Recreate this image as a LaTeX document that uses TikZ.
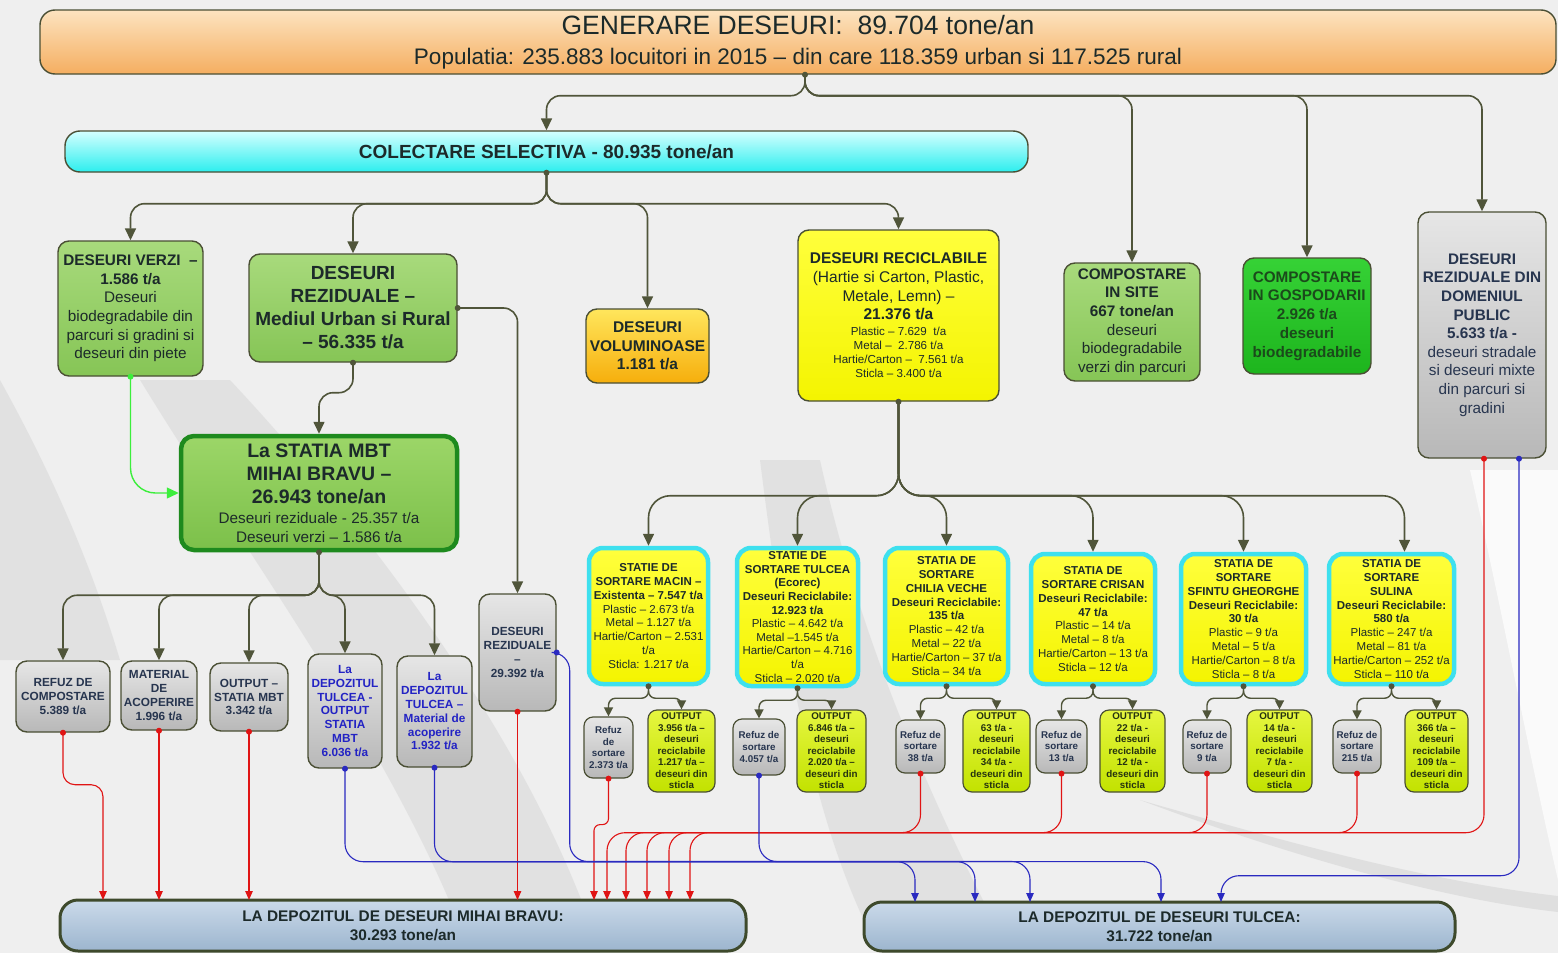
\documentclass[tikz,border=0pt]{standalone}
\usepackage{fontspec}
\setmainfont{Liberation Sans}
\usetikzlibrary{arrows.meta,calc}
\newcommand{\fsz}[2]{\fontsize{#1}{#2}\selectfont}

\definecolor{conn}{HTML}{50553A}
\definecolor{edge}{HTML}{4A4F34}
\definecolor{ink}{HTML}{1C2A2A}
\definecolor{greyink}{HTML}{27354F}
\definecolor{blueink}{HTML}{2323C4}
\definecolor{redl}{HTML}{E01414}
\definecolor{bluel}{HTML}{2A2AC0}
\definecolor{greenl}{HTML}{3CEE3C}
\definecolor{genT}{HTML}{FCE3C0}
\definecolor{genB}{HTML}{F5AE60}
\definecolor{colT}{HTML}{D4FFFF}
\definecolor{colB}{HTML}{2CEEEE}
\definecolor{grnT}{HTML}{A8DA7C}
\definecolor{grnB}{HTML}{86C556}
\definecolor{mbtT}{HTML}{9CD668}
\definecolor{mbtB}{HTML}{7CC04A}
\definecolor{mbtE}{HTML}{1E8A1E}
\definecolor{gspT}{HTML}{36D236}
\definecolor{gspB}{HTML}{1DB51D}
\definecolor{gspInk}{HTML}{1B4A1B}
\definecolor{volT}{HTML}{FFE65C}
\definecolor{volB}{HTML}{F6AE0C}
\definecolor{recT}{HTML}{FFFF3C}
\definecolor{recB}{HTML}{F4F400}
\definecolor{stE}{HTML}{3EE0EE}
\definecolor{outT}{HTML}{E6F640}
\definecolor{outB}{HTML}{C2E200}
\definecolor{outInk}{HTML}{253210}
\definecolor{gryT}{HTML}{E6E6E6}
\definecolor{gryB}{HTML}{B8B8B8}
\definecolor{depT}{HTML}{CBDAEA}
\definecolor{depB}{HTML}{9CB5CE}
\definecolor{depE}{HTML}{3E4A2C}
\definecolor{bgbase}{HTML}{EFEFEF}
\definecolor{bgband}{HTML}{D9D9D9}

\newcommand{\pin}[2]{\fill[#1] (#2) circle (3pt);}

\begin{document}
\begin{tikzpicture}[x=1pt,y=-1pt,
  base/.style={draw=edge, line width=1.4pt, rounded corners=11pt, align=center,
    text=ink, inner sep=1pt},
  genbox/.style={base, top color=genT, bottom color=genB, rounded corners=15pt},
  colbox/.style={base, top color=colT, bottom color=colB, rounded corners=15pt,
    font=\fsz{19}{22}\bfseries},
  greenbox/.style={base, top color=grnT, bottom color=grnB, font=\fsz{15.3}{18.6}},
  gospbox/.style={base, top color=gspT, bottom color=gspB, text=gspInk,
    font=\fsz{15.3}{18.8}\bfseries},
  volbox/.style={base, top color=volT, bottom color=volB, font=\fsz{15.5}{18.5}\bfseries},
  recbox/.style={base, top color=recT, bottom color=recB, font=\fsz{15.5}{18.7}},
  mbtbox/.style={base, draw=mbtE, line width=4.5pt, top color=mbtT, bottom color=mbtB,
    rounded corners=13pt},
  greybox/.style={base, top color=gryT, bottom color=gryB, text=greyink},
  lowbox/.style={greybox, font=\fsz{11.8}{13.8}\bfseries},
  stationbox/.style={base, draw=stE, line width=4.5pt, top color=recT, bottom color=recB,
    rounded corners=14pt, font=\fsz{11.5}{13.9}},
  refbox/.style={greybox, line width=1.2pt, rounded corners=9pt,
    font=\fsz{9.8}{11.7}\bfseries, text=greyink},
  outbox/.style={base, line width=1.2pt, rounded corners=9pt, top color=outT,
    bottom color=outB, text=outInk, font=\fsz{9.8}{11.5}\bfseries},
  depbox/.style={base, draw=depE, line width=3pt, top color=depT, bottom color=depB,
    rounded corners=18pt, text=ink, font=\fsz{15.4}{19}\bfseries},
  flow/.style={draw=conn, line width=1.6pt, rounded corners=14pt,
    -{Triangle[length=12pt,width=11pt]}},
  sflow/.style={draw=conn, line width=1.4pt, rounded corners=7pt,
    -{Triangle[length=9pt,width=9pt]}},
  greenflow/.style={draw=greenl, line width=1.4pt, rounded corners=25pt,
    -{Triangle[length=12pt,width=11pt]}},
  redflow/.style={draw=redl, line width=1.1pt, rounded corners=18pt,
    -{Triangle[length=9pt,width=7.5pt]}},
  blueflow/.style={draw=bluel, line width=1.1pt, rounded corners=18pt,
    -{Triangle[length=9pt,width=7.5pt]}},
]
\clip (0,0) rectangle (1558,953);

% ---------- background with soft swooshes ----------
\fill[bgbase] (0,0) rectangle (1558,953);
\fill[bgband, opacity=.6] (0,380) .. controls (50,470) and (90,560) .. (120,660) -- (0,660) -- cycle;
\fill[bgband, opacity=.6] (140,380) .. controls (250,560) and (400,760) .. (470,953)
  -- (600,953) .. controls (540,760) and (380,540) .. (230,380) -- cycle;
\fill[bgband, opacity=.6] (820,460) .. controls (860,640) and (930,800) .. (1010,953)
  -- (880,953) .. controls (820,840) and (790,700) .. (760,460) -- cycle;
\fill[bgband, opacity=.7] (1140,800) .. controls (1300,860) and (1450,900) .. (1558,912)
  -- (1558,896) .. controls (1420,880) and (1280,840) .. (1140,800) -- cycle;
\fill[white, opacity=.7] (1470,470) .. controls (1500,600) and (1530,760) .. (1558,880)
  -- (1558,470) -- cycle;

% ---------- top level ----------
\node[genbox, minimum width=1516pt, minimum height=64pt, font=\fsz{22.5}{29.5}] (gen) at (798,42)
  {\fsz{26.5}{29.5}GENERARE DESEURI:\ \ 89.704 tone/an\\
   Populatia: 235.883 locuitori in 2015 -- din care 118.359 urban si 117.525 rural};

\node[colbox, minimum width=963pt, minimum height=41pt] (col) at (546.5,151.5)
  {COLECTARE SELECTIVA - 80.935 tone/an};

% ---------- collection streams ----------
\node[greenbox, minimum width=145pt, minimum height=135pt] (verzi) at (130.5,308.5)
  {\textbf{DESEURI VERZI\ \ --}\\ \textbf{1.586 t/a}\\ Deseuri\\ biodegradabile din\\
   parcuri si gradini si\\ deseuri din piete};

\node[greenbox, minimum width=208pt, minimum height=108pt, font=\fsz{19}{23}\bfseries] (rez) at (353,308)
  {DESEURI\\ REZIDUALE --\\ Mediul Urban si Rural\\ -- 56.335 t/a};

\node[volbox, minimum width=123pt, minimum height=74pt] (vol) at (647.5,346)
  {DESEURI\\ VOLUMINOASE\\ 1.181 t/a};

\node[recbox, minimum width=201pt, minimum height=171pt] (recic) at (898.5,315.5)
  {\textbf{DESEURI RECICLABILE}\\ (Hartie si Carton, Plastic,\\ Metale, Lemn) --\\
   \textbf{21.376 t/a}\\[-2.7pt]
   \fsz{11.6}{14}Plastic -- 7.629\ \ t/a\\[-4.7pt]
   \fsz{11.6}{14}Metal --\ \ 2.786 t/a\\[-4.7pt]
   \fsz{11.6}{14}Hartie/Carton --\ \ 7.561 t/a\\[-4.7pt]
   \fsz{11.6}{14}Sticla -- 3.400 t/a};

\node[greenbox, minimum width=136pt, minimum height=118pt] (csite) at (1132,322)
  {\textbf{COMPOSTARE}\\ \textbf{IN SITE}\\ \textbf{667 tone/an}\\ deseuri\\ biodegradabile\\ verzi din parcuri};

\node[gospbox, minimum width=128pt, minimum height=116pt] (cgosp) at (1307,316)
  {COMPOSTARE\\ IN GOSPODARII\\ 2.926 t/a\\ deseuri\\ biodegradabile};

\node[greybox, minimum width=128pt, minimum height=246pt, font=\fsz{15.3}{18.6}] (pub) at (1482,335)
  {\textbf{DESEURI}\\ \textbf{REZIDUALE DIN}\\ \textbf{DOMENIUL}\\ \textbf{PUBLIC}\\ \textbf{5.633 t/a -}\\
   deseuri stradale\\ si deseuri mixte\\ din parcuri si\\ gradini};

% ---------- MBT plant and its outputs ----------
\node[mbtbox, minimum width=276pt, minimum height=114pt, font=\fsz{15.3}{23}] (mbt) at (319,493)
  {\fsz{19.5}{23}\bfseries La STATIA MBT\\ \fsz{19.5}{23}\bfseries MIHAI BRAVU --\\
   \fsz{19.5}{23}\bfseries 26.943 tone/an\\[-3pt]
   Deseuri reziduale - 25.357 t/a\\[-4pt] Deseuri verzi -- 1.586 t/a};

\node[lowbox, minimum width=94pt, minimum height=71pt] (refc) at (63,696.5)
  {REFUZ DE\\ COMPOSTARE\\ 5.389 t/a};
\node[lowbox, minimum width=76pt, minimum height=69pt] (mat) at (159,695.5)
  {MATERIAL\\ DE\\ ACOPERIRE\\ 1.996 t/a};
\node[lowbox, minimum width=78pt, minimum height=68pt] (outm) at (249,697)
  {OUTPUT --\\ STATIA MBT\\ 3.342 t/a};
\node[lowbox, text=blueink, minimum width=74pt, minimum height=114pt] (dto) at (345,711)
  {La\\ DEPOZITUL\\ TULCEA -\\ OUTPUT\\ STATIA\\ MBT\\ 6.036 t/a};
\node[lowbox, text=blueink, minimum width=75pt, minimum height=111pt] (dtm) at (434.5,711.5)
  {La\\ DEPOZITUL\\ TULCEA --\\ Material de\\ acoperire\\ 1.932 t/a};
\node[lowbox, minimum width=77pt, minimum height=117pt] (drz) at (517.5,652.5)
  {DESEURI\\ REZIDUALE\\ --\\ 29.392 t/a};

% ---------- sorting stations ----------
\node[stationbox, minimum width=119pt, minimum height=136pt] (s1) at (648.5,616)
  {\textbf{STATIE DE}\\ \textbf{SORTARE MACIN --}\\ \textbf{Existenta -- 7.547 t/a}\\
   Plastic -- 2.673 t/a\\ Metal -- 1.127 t/a\\ Hartie/Carton -- 2.531\\ t/a\\ Sticla: 1.217 t/a};
\node[stationbox, minimum width=121pt, minimum height=138pt, font=\fsz{11.5}{13.6}] (s2) at (797.5,617)
  {\textbf{STATIE DE}\\ \textbf{SORTARE TULCEA}\\ \textbf{(Ecorec)}\\ \textbf{Deseuri Reciclabile:}\\
   \textbf{12.923 t/a}\\ Plastic -- 4.642 t/a\\ Metal --1.545 t/a\\ Hartie/Carton -- 4.716\\ t/a\\
   Sticla -- 2.020 t/a};
\node[stationbox, minimum width=123pt, minimum height=136pt] (s3) at (946.5,616)
  {\textbf{STATIA DE}\\ \textbf{SORTARE}\\ \textbf{CHILIA VECHE}\\ \textbf{Deseuri Reciclabile:}\\
   \textbf{135 t/a}\\ Plastic -- 42 t/a\\ Metal -- 22 t/a\\ Hartie/Carton -- 37 t/a\\ Sticla -- 34 t/a};
\node[stationbox, minimum width=124pt, minimum height=130pt] (s4) at (1093,619)
  {\textbf{STATIA DE}\\ \textbf{SORTARE CRISAN}\\ \textbf{Deseuri Reciclabile:}\\ \textbf{47 t/a}\\
   Plastic -- 14 t/a\\ Metal -- 8 t/a\\ Hartie/Carton -- 13 t/a\\ Sticla -- 12 t/a};
\node[stationbox, minimum width=125pt, minimum height=130pt] (s5) at (1243.5,619)
  {\textbf{STATIA DE}\\ \textbf{SORTARE}\\ \textbf{SFINTU GHEORGHE}\\ \textbf{Deseuri Reciclabile:}\\
   \textbf{30 t/a}\\ Plastic -- 9 t/a\\ Metal -- 5 t/a\\ Hartie/Carton -- 8 t/a\\ Sticla -- 8 t/a};
\node[stationbox, minimum width=125pt, minimum height=130pt] (s6) at (1391.5,619)
  {\textbf{STATIA DE}\\ \textbf{SORTARE}\\ \textbf{SULINA}\\ \textbf{Deseuri Reciclabile:}\\
   \textbf{580 t/a}\\ Plastic -- 247 t/a\\ Metal -- 81 t/a\\ Hartie/Carton -- 252 t/a\\ Sticla -- 110 t/a};

% sorting rejects and outputs
\node[refbox, minimum width=49pt, minimum height=61pt] (r1) at (608.5,747.5)
  {Refuz\\ de\\ sortare\\ 2.373 t/a};
\node[outbox, minimum width=67pt, minimum height=82pt] (o1) at (681.5,751)
  {OUTPUT\\ 3.956 t/a --\\ deseuri\\ reciclabile\\ 1.217 t/a --\\ deseuri din\\ sticla};
\node[refbox, minimum width=52pt, minimum height=56pt] (r2) at (759,747)
  {Refuz de\\ sortare\\ 4.057 t/a};
\node[outbox, minimum width=69pt, minimum height=82pt] (o2) at (831.5,751)
  {OUTPUT\\ 6.846 t/a --\\ deseuri\\ reciclabile\\ 2.020 t/a --\\ deseuri din\\ sticla};
\node[refbox, minimum width=49pt, minimum height=53pt] (r3) at (920.5,746.5)
  {Refuz de\\ sortare\\ 38 t/a};
\node[outbox, minimum width=67pt, minimum height=82pt] (o3) at (996.5,751)
  {OUTPUT\\ 63 t/a -\\ deseuri\\ reciclabile\\ 34 t/a -\\ deseuri din\\ sticla};
\node[refbox, minimum width=51pt, minimum height=53pt] (r4) at (1061.5,746.5)
  {Refuz de\\ sortare\\ 13 t/a};
\node[outbox, minimum width=65pt, minimum height=82pt] (o4) at (1132.5,751)
  {OUTPUT\\ 22 t/a -\\ deseuri\\ reciclabile\\ 12 t/a -\\ deseuri din\\ sticla};
\node[refbox, minimum width=48pt, minimum height=53pt] (r5) at (1207,746.5)
  {Refuz de\\ sortare\\ 9 t/a};
\node[outbox, minimum width=65pt, minimum height=82pt] (o5) at (1279.5,751)
  {OUTPUT\\ 14 t/a -\\ deseuri\\ reciclabile\\ 7 t/a -\\ deseuri din\\ sticla};
\node[refbox, minimum width=48pt, minimum height=53pt] (r6) at (1357,746.5)
  {Refuz de\\ sortare\\ 215 t/a};
\node[outbox, minimum width=63pt, minimum height=82pt] (o6) at (1436.5,751)
  {OUTPUT\\ 366 t/a --\\ deseuri\\ reciclabile\\ 109 t/a --\\ deseuri din\\ sticla};

% ---------- landfills ----------
\node[depbox, minimum width=686pt, minimum height=51pt] (mb) at (403,925.5)
  {LA DEPOZITUL DE DESEURI MIHAI BRAVU:\\ 30.293 tone/an};
\node[depbox, minimum width=591pt, minimum height=49pt] (tul) at (1159.5,926.5)
  {LA DEPOZITUL DE DESEURI TULCEA:\\ 31.722 tone/an};

% entry points on the landfills
\coordinate (mb1) at (103,900);  \coordinate (mb2) at (159,900);
\coordinate (mb3) at (249,900);  \coordinate (mb4) at (517.5,900);
\coordinate (mb5) at (594,900);  \coordinate (mb6) at (607,900);
\coordinate (mb7) at (626,900);  \coordinate (mb8) at (647,900);
\coordinate (mb9) at (669,900);  \coordinate (mb10) at (690,900);
\coordinate (tb1) at (915,902);  \coordinate (tb2) at (975,902);
\coordinate (tb3) at (1030,902); \coordinate (tb4) at (1161,902);
\coordinate (tb5) at (1221,902);
\coordinate (genout) at ($(gen.south)+(7,0)$);
\coordinate (pubr) at ($(pub.south)+(2,0)$);
\coordinate (pubb) at ($(pub.south)+(37,0)$);

% ---------- main flows ----------
\draw[flow] (genout) -- ++(0,21) -| (col.north);
\draw[flow] (genout) -- ++(0,21) -| (csite.north);
\draw[flow] (genout) -- ++(0,21) -| (cgosp.north);
\draw[flow] (genout) -- ++(0,21) -| (pub.north);

\draw[flow] (col.south) -- ++(0,31) -| (verzi.north);
\draw[flow] (col.south) -- ++(0,31) -| (rez.north);
\draw[flow] (col.south) -- ++(0,31) -| (vol.north);
\draw[flow] (col.south) -- ++(0,31) -| (recic.north);

\draw[flow] (rez.south) -- ++(0,30) -| (mbt.north);
\draw[flow] (rez.east) -| (drz.north);
\draw[greenflow] (verzi.south) |- (mbt.west);

\draw[flow] (mbt.south) -- ++(0,43) -| (refc.north);
\draw[flow] (mbt.south) -- ++(0,43) -| (mat.north);
\draw[flow] (mbt.south) -- ++(0,43) -| (outm.north);
\draw[flow] (mbt.south) -- ++(0,43) -| (dto.north);
\draw[flow] (mbt.south) -- ++(0,43) -| (dtm.north);

\draw[flow, rounded corners=22pt] (recic.south) -- ++(0,94) -| (s1.north);
\draw[flow, rounded corners=22pt] (recic.south) -- ++(0,94) -| (s2.north);
\draw[flow, rounded corners=22pt] (recic.south) -- ++(0,94) -| (s3.north);
\draw[flow, rounded corners=22pt] (recic.south) -- ++(0,94) -| (s4.north);
\draw[flow, rounded corners=22pt] (recic.south) -- ++(0,94) -| (s5.north);
\draw[flow, rounded corners=22pt] (recic.south) -- ++(0,94) -| ([xshift=13pt]s6.north);

\foreach \s/\r/\o in {s1/r1/o1, s2/r2/o2, s3/r3/o3, s4/r4/o4, s5/r5/o5, s6/r6/o6}{
  \draw[sflow] (\s.south) -- ++(0,12) -| (\r.north);
  \draw[sflow] (\s.south) -- ++(0,12) -| (\o.north);
}

% ---------- to the Mihai Bravu landfill ----------
\draw[redflow, rounded corners=12pt] (refc.south) -- ++(0,52) -| (mb1);
\draw[redflow] (mat.south) -- (mb2);
\draw[redflow] (outm.south) -- (mb3);
\draw[redflow] (drz.south) -- (mb4);
\draw[redflow, rounded corners=6pt] (r1.south) -- ++(0,46) -| (mb5);
\draw[redflow] (pubr) -- ++(0,374) -| (mb6);
\draw[redflow] (r6.south) -- ++(0,59) -| (mb7);
\draw[redflow] (r5.south) -- ++(0,59) -| (mb8);
\draw[redflow] (r4.south) -- ++(0,59) -| (mb9);
\draw[redflow] (r3.south) -- ++(0,59) -| (mb10);

% ---------- to the Tulcea landfill ----------
\draw[blueflow] (dto.south) -- ++(0,93) -| (tb1);
\draw[blueflow] (dtm.south) -- ++(0,94) -| (tb2);
\draw[blueflow] (drz.east) -- ++(13,0) -- ++(0,209) -| (tb3);
\draw[blueflow] (r2.south) -- ++(0,86) -| (tb4);
\draw[blueflow] (pubb) -- ++(0,417) -| (tb5);

% ---------- connection dots ----------
\pin{conn}{genout}
\pin{conn}{col.south}
\pin{conn}{rez.south}
\pin{conn}{rez.east}
\pin{conn}{recic.south}
\pin{conn}{mbt.south}
\foreach \s in {s1,s2,s3,s4,s5,s6}{\pin{conn}{\s.south}}
\pin{greenl}{verzi.south}
\foreach \n in {refc,mat,outm,drz,r1,r3,r4,r5,r6}{\pin{redl}{\n.south}}
\pin{redl}{pubr}
\foreach \n in {dto,dtm,r2}{\pin{bluel}{\n.south}}
\pin{bluel}{drz.east}
\pin{bluel}{pubb}
\end{tikzpicture}
\end{document}
